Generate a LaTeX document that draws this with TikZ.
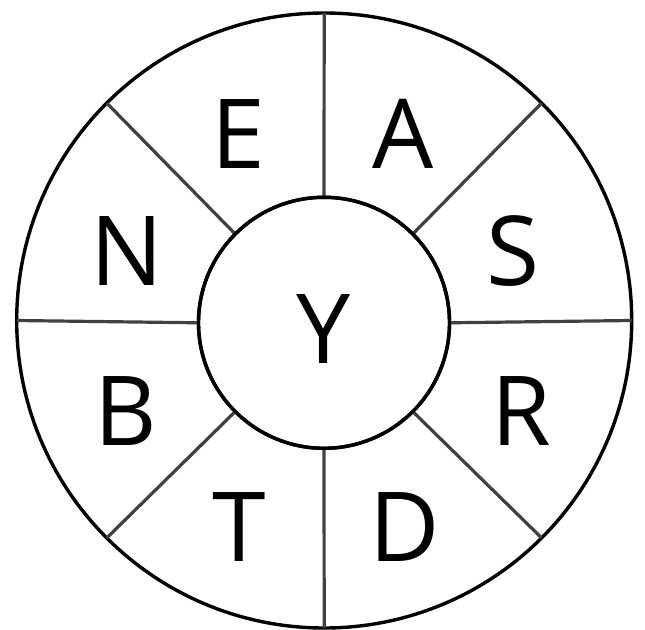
\documentclass[tikz,border=0pt]{standalone}
\usepackage{fontspec}
\setmainfont{Open Sans}
\begin{document}
\begin{tikzpicture}[x=1bp,y=-1bp,
  ring/.style={circle,draw=black,line width=3.4bp,inner sep=0pt,outer sep=0pt},
  spoke/.style={draw=black!75,line width=3.2bp},
  letter/.style={anchor=base,inner sep=0pt,font=\fontsize{96.6bp}{100bp}\selectfont}]
\useasboundingbox (0,0) rectangle (645,630);
\node[ring,minimum size=615bp] (outer) at (324.2,320.5) {};
\node[ring,minimum size=251bp,fill=white] (inner) at (324,322.8) {};
\foreach \a in {0,45,...,315}{
  \draw[spoke] (inner.\a) -- (outer.\a);
}
\node[ring,minimum size=251bp] (innerb) at (324,322.8) {};
\node[letter] (E) at (238,169) {E};
\node[letter] (A) at (403,169) {A};
\node[letter] (N) at (127,285) {N};
\node[letter] (S) at (513,285) {S};
\node[letter] (B) at (126,445) {B};
\node[letter] (R) at (521,445) {R};
\node[letter] (T) at (239,561.7) {T};
\node[letter] (D) at (405,561.7) {D};
\node[letter] (Y) at (324,363) {Y};
\end{tikzpicture}
\end{document}
